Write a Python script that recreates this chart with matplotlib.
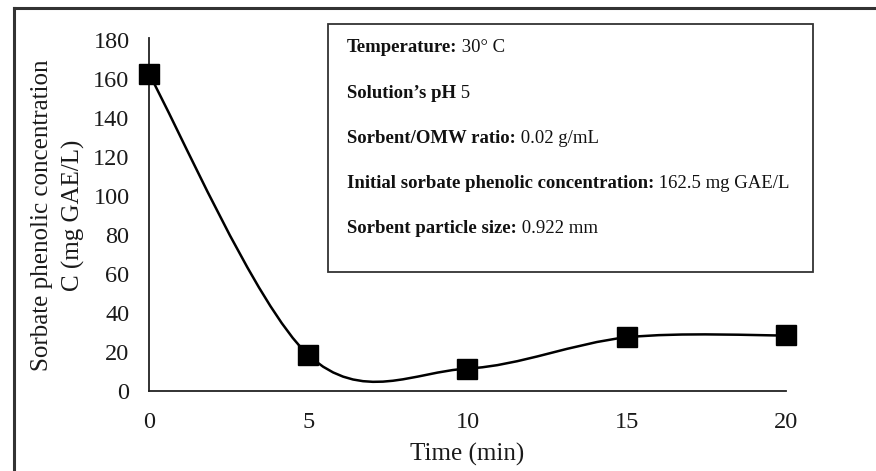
import numpy as np
import matplotlib.pyplot as plt
from matplotlib.path import Path
from matplotlib.patches import PathPatch, Rectangle
from matplotlib.lines import Line2D

plt.rcParams['font.family'] = ['Liberation Serif', 'DejaVu Serif']

# data
time_min = [0, 5, 10, 15, 20]
conc = [162.5, 18.5, 11.5, 27.5, 28.5]
x_ticks = [0, 5, 10, 15, 20]
y_ticks = [0, 20, 40, 60, 80, 100, 120, 140, 160, 180]

box_bold = ["Temperature:", "Solution\u2019s pH", "Sorbent/OMW ratio:",
            "Initial sorbate phenolic concentration:", "Sorbent particle size:"]
box_plain = [" 30\u00b0 C", " 5", " 0.02 g/mL", " 162.5 mg GAE/L", " 0.922 mm"]


# smoothed line like the spreadsheet one (bezier through the points)
def smooth_path(x, y):
    p = np.column_stack([x, y]).astype(float)
    n = len(p)
    verts = [p[0]]
    codes = [Path.MOVETO]
    for i in range(n - 1):
        p_prev = p[i - 1] if i > 0 else p[i]
        p_next2 = p[i + 2] if i + 2 < n else p[i + 1]
        c1 = p[i] + (p[i + 1] - p_prev) / 6
        c2 = p[i + 1] - (p_next2 - p[i]) / 6
        verts += [c1, c2, p[i + 1]]
        codes += [Path.CURVE4] * 3
    return Path(verts, codes)


W, H = 876, 471
fig = plt.figure(figsize=(W / 100, H / 100), dpi=100)
ax = fig.add_axes([149 / W, 1 - 391 / H, (786 - 149) / W, (391 - 40) / H])

ax.add_patch(PathPatch(smooth_path(time_min, conc), fill=False, lw=1.8,
                       color='black', zorder=3))
ax.plot(time_min, conc, ls='none', marker='s', ms=14.5, color='black', zorder=4,
        clip_on=False)

ax.set_xlim(0, 20)
ax.set_ylim(0, 180)
ax.set_xticks(x_ticks)
ax.set_yticks(y_ticks)
ax.tick_params(length=0, labelsize=17.5, colors='#1a1a1a')
ax.tick_params(axis='x', pad=15)
ax.tick_params(axis='y', pad=14)
for s in ['top', 'right']:
    ax.spines[s].set_visible(False)
for s in ['left', 'bottom']:
    ax.spines[s].set_linewidth(1.3)
    ax.spines[s].set_color('#222222')
ax.spines['left'].set_bounds(0, 181)

ax.set_xlabel("Time (min)", fontsize=18, color='#1a1a1a', labelpad=7)
ax.set_ylabel("Sorbate phenolic concentration\nC (mg GAE/L)", fontsize=18,
              color='#1a1a1a', linespacing=1.5)
ax.yaxis.set_label_coords(-0.1, 0.5)

# outer frame
fig.add_artist(Line2D([14 / W, 1], [1 - 8 / H, 1 - 8 / H], transform=fig.transFigure,
                      color='#333333', lw=2.2))
fig.add_artist(Line2D([14 / W, 14 / W], [0, 1 - 8 / H], transform=fig.transFigure,
                      color='#333333', lw=2.2))

# info box
fig.add_artist(Rectangle((328 / W, 1 - 272 / H), (813 - 328) / W, (272 - 24) / H,
                         transform=fig.transFigure, facecolor='white',
                         edgecolor='#333333', lw=1.3, zorder=5))
line_y = [52, 98, 143, 188, 233]
fig.canvas.draw()
for b, t, yy in zip(box_bold, box_plain, line_y):
    tb = fig.text(347 / W, 1 - yy / H, b, fontsize=13.5, fontweight='bold',
                  va='baseline', ha='left', color='#111111', zorder=6)
    fig.canvas.draw()
    ext = tb.get_window_extent()
    fig.text(ext.x1 / W, 1 - yy / H, t, fontsize=13.5, va='baseline', ha='left',
             color='#111111', zorder=6)

fig.savefig("out.png", dpi=100)
